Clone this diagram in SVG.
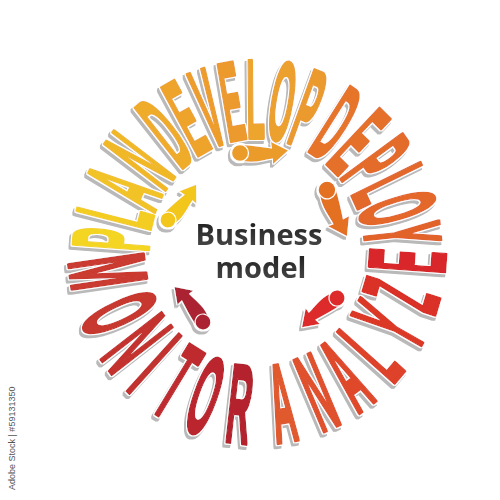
<svg xmlns="http://www.w3.org/2000/svg" xmlns:xlink="http://www.w3.org/1999/xlink" width="500" height="500" viewBox="0 0 500 500">
<defs>
<style>
.t{font-family:'Liberation Sans',Arial,sans-serif;font-weight:bold;font-size:40px;text-anchor:middle;fill:currentColor;stroke:currentColor;stroke-width:3px;stroke-linejoin:round;vector-effect:non-scaling-stroke}
.c{font-family:'Open Sans','Liberation Sans',Arial,sans-serif;font-weight:bold;font-size:29px;text-anchor:middle}
.side{font-family:'Liberation Sans',Arial,sans-serif;font-size:9px;fill:#555}
.ball{stroke:#ffffff;stroke-width:1.3}
</style>
<filter id="sh" x="-10%" y="-10%" width="120%" height="120%">
<feMorphology in="SourceAlpha" operator="dilate" radius="1.2" result="d"/>
<feOffset in="d" dx="-2.5" dy="2.5" result="o"/>
<feFlood flood-color="#b9b9b9"/>
<feComposite in2="o" operator="in" result="s"/>
<feFlood flood-color="#ffffff"/>
<feComposite in2="d" operator="in" result="wh"/>
<feMerge><feMergeNode in="s"/><feMergeNode in="wh"/><feMergeNode in="SourceGraphic"/></feMerge>
</filter>
<linearGradient id="txt" x1="0" y1="0" x2="0" y2="1">
<stop offset="0" stop-color="#141414"/><stop offset="1" stop-color="#505050"/>
</linearGradient>
<g id="arw">
<path d="M1,-8 C12,-7.5 22,-6 32,-4.5 L31,-11 L48,-2.5 L33,11 L33,5.5 C24,6.5 15,10.5 3,8 Z"/>
<circle class="ball" cx="0" cy="0" r="8.5"/>
</g>
</defs>
<rect width="500" height="500" fill="#ffffff"/>

<g filter="url(#sh)">
<g transform="translate(257,250) scale(0.97,1)">
<g id="plan">
<text class="t" color="#f4d523" transform="rotate(-86) translate(0,-112) scale(0.8,2.8)">P</text>
<text class="t" color="#f3cd24" transform="rotate(-76) translate(0,-112) scale(0.78,2.8)">L</text>
<text class="t" color="#f2c326" transform="rotate(-65.5) translate(0,-112) scale(0.78,2.8)">A</text>
<text class="t" color="#f1b828" transform="rotate(-53.5) translate(0,-112) scale(0.78,2.8)">N</text>
</g>
<g id="develop">
<text class="t" color="#efab2b" transform="rotate(-39) translate(0,-112) scale(0.78,2.8)">D</text>
<text class="t" color="#eea32c" transform="rotate(-29) translate(0,-112) scale(0.78,2.8)">E</text>
<text class="t" color="#ed9d2c" transform="rotate(-19.5) translate(0,-112) scale(0.78,2.8)">V</text>
<text class="t" color="#ec9a2d" transform="rotate(-10) translate(0,-112) scale(0.78,2.8)">E</text>
<text class="t" color="#eda52e" transform="rotate(-0.5) translate(0,-112) scale(0.78,2.8)">L</text>
<text class="t" color="#eca02e" transform="rotate(10) translate(0,-112) scale(0.78,2.8)">O</text>
<text class="t" color="#eb9a2e" transform="rotate(20.5) translate(0,-112) scale(0.78,2.8)">P</text>
</g>
<g id="deploy">
<text class="t" color="#e6742a" transform="rotate(33) translate(0,-112) scale(0.8,2.8)">D</text>
<text class="t" color="#e5702a" transform="rotate(44) translate(0,-112) scale(0.8,2.8)">E</text>
<text class="t" color="#e46c2a" transform="rotate(54.5) translate(0,-112) scale(0.8,2.8)">P</text>
<text class="t" color="#e3692a" transform="rotate(64.5) translate(0,-112) scale(0.8,2.8)">L</text>
<text class="t" color="#e3672a" transform="rotate(74) translate(0,-112) scale(0.8,2.8)">O</text>
<text class="t" color="#e2642a" transform="rotate(84) translate(0,-112) scale(0.82,2.8)">Y</text>
</g>
<g id="analyze">
<text class="t" color="#e05a2f" transform="rotate(-9.5) translate(0,194) scale(0.86,2.8)">A</text>
<text class="t" color="#e0512d" transform="rotate(-23.5) translate(0,194) scale(0.86,2.8)">N</text>
<text class="t" color="#df492b" transform="rotate(-36) translate(0,194) scale(0.86,2.8)">A</text>
<text class="t" color="#de4229" transform="rotate(-49) translate(0,194) scale(0.86,2.8)">L</text>
<text class="t" color="#dc3828" transform="rotate(-61) translate(0,194) scale(0.86,2.8)">Y</text>
<text class="t" color="#da3028" transform="rotate(-73) translate(0,194) scale(0.86,2.8)">Z</text>
<text class="t" color="#d8282a" transform="rotate(-86) translate(0,194) scale(0.86,2.8)">E</text>
</g>
<g id="monitor">
<text class="t" color="#ca3a30" transform="rotate(82) translate(0,194) scale(0.95,2.8)">M</text>
<text class="t" color="#c7372e" transform="rotate(66) translate(0,194) scale(0.86,2.8)">O</text>
<text class="t" color="#c4332f" transform="rotate(53) translate(0,194) scale(0.86,2.8)">N</text>
<text class="t" color="#c2302f" transform="rotate(43) translate(0,194) scale(0.86,2.8)">I</text>
<text class="t" color="#bf2c2f" transform="rotate(32) translate(0,194) scale(0.86,2.8)">T</text>
<text class="t" color="#bb282f" transform="rotate(20) translate(0,194) scale(0.86,2.8)">O</text>
<text class="t" color="#b4222e" transform="rotate(6.5) translate(0,194) scale(0.86,2.8)">R</text>
</g>
</g>

<g id="connectors">
<use xlink:href="#arw" href="#arw" fill="#f3c61f" transform="translate(168,220) rotate(-48.5) scale(0.94)"/>
<use xlink:href="#arw" href="#arw" fill="#eb9b2b" transform="translate(240,153)"/>
<use xlink:href="#arw" href="#arw" fill="#e46f23" transform="translate(327,190) rotate(69.6) scale(1.04)"/>
<use xlink:href="#arw" href="#arw" fill="#dd2a2b" transform="translate(337,298) rotate(143) scale(0.95)"/>
<use xlink:href="#arw" href="#arw" fill="#ab2431" transform="translate(203,322) rotate(-126) scale(0.94)"/>
</g>
</g>

<g id="business-model">
<text class="c" x="259" y="245" fill="url(#txt)">Business</text>
<text class="c" x="261" y="278" fill="url(#txt)">model</text>
</g>

<text class="side" transform="translate(15,490) rotate(-90)">Adobe Stock | #59131350</text>
</svg>
